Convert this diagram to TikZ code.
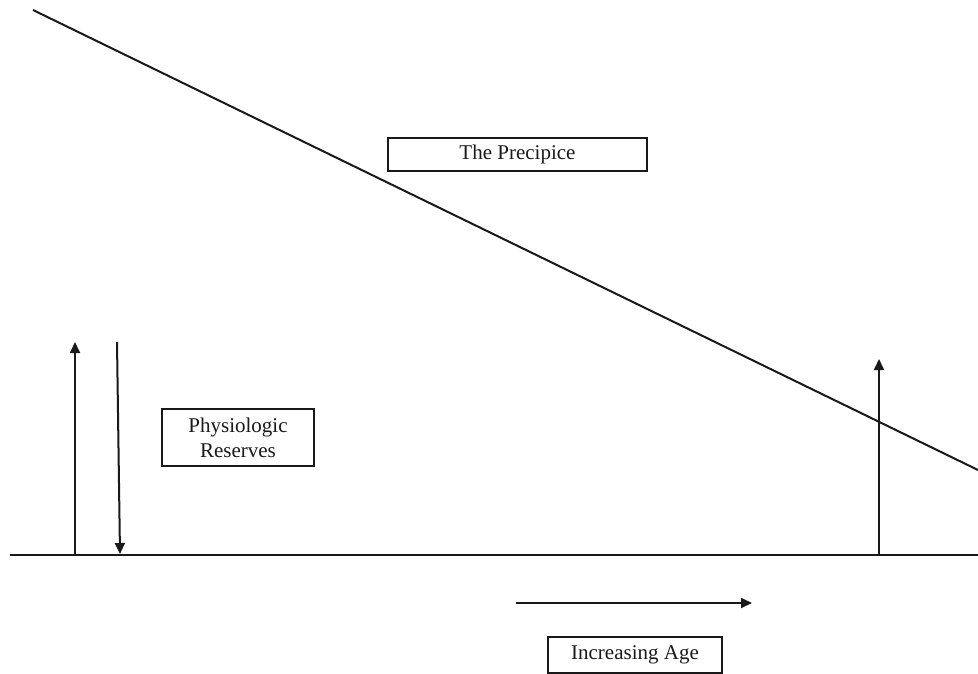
\documentclass[tikz,border=0pt]{standalone}
\usepackage{fontspec}
\setmainfont{Liberation Serif}
\usetikzlibrary{arrows.meta}
\begin{document}
\begin{tikzpicture}[x=1pt,y=-1pt,
  stroke/.style={line width=2pt,draw=black!90},
  arrowline/.style={stroke,-{Triangle[length=11pt,width=10pt]}},
  labelbox/.style={draw=black!90,line width=2pt,inner sep=0pt,align=center,
    font=\fontsize{21}{25}\selectfont,text=black!90}]
  \useasboundingbox (0,0) rectangle (978,674);

  % ground line and the falling line
  \coordinate (g0) at (10,555);
  \coordinate (g1) at (978,555);
  \coordinate (p0) at (33,10);
  \coordinate (p1) at (978,470);
  \draw[stroke] (g0) -- (g1);
  \draw[stroke] (p0) -- (p1);

  % labels
  \node[labelbox,minimum width=259pt,minimum height=33pt] (prec) at (517.5,154.5) {The Precipice};
  \node[labelbox,minimum width=152pt,minimum height=57pt] (reserve) at (238,437.5) {Physiologic\\Reserves};
  \node[labelbox,minimum width=174pt,minimum height=36pt] (age) at (635,655) {Increasing Age};

  % vertical arrows
  \coordinate (a0) at (75,555);
  \coordinate (a1) at (75,342);
  \draw[arrowline] (a0) -- (a1);
  \coordinate (b0) at (117,342);
  \coordinate (b1) at (120,554);
  \draw[arrowline] (b0) -- (b1);
  \coordinate (c0) at (879,555);
  \coordinate (c1) at (879,359);
  \draw[arrowline] (c0) -- (c1);

  % age arrow
  \coordinate (d0) at (516,603);
  \coordinate (d1) at (752,603);
  \draw[arrowline] (d0) -- (d1);
\end{tikzpicture}
\end{document}
